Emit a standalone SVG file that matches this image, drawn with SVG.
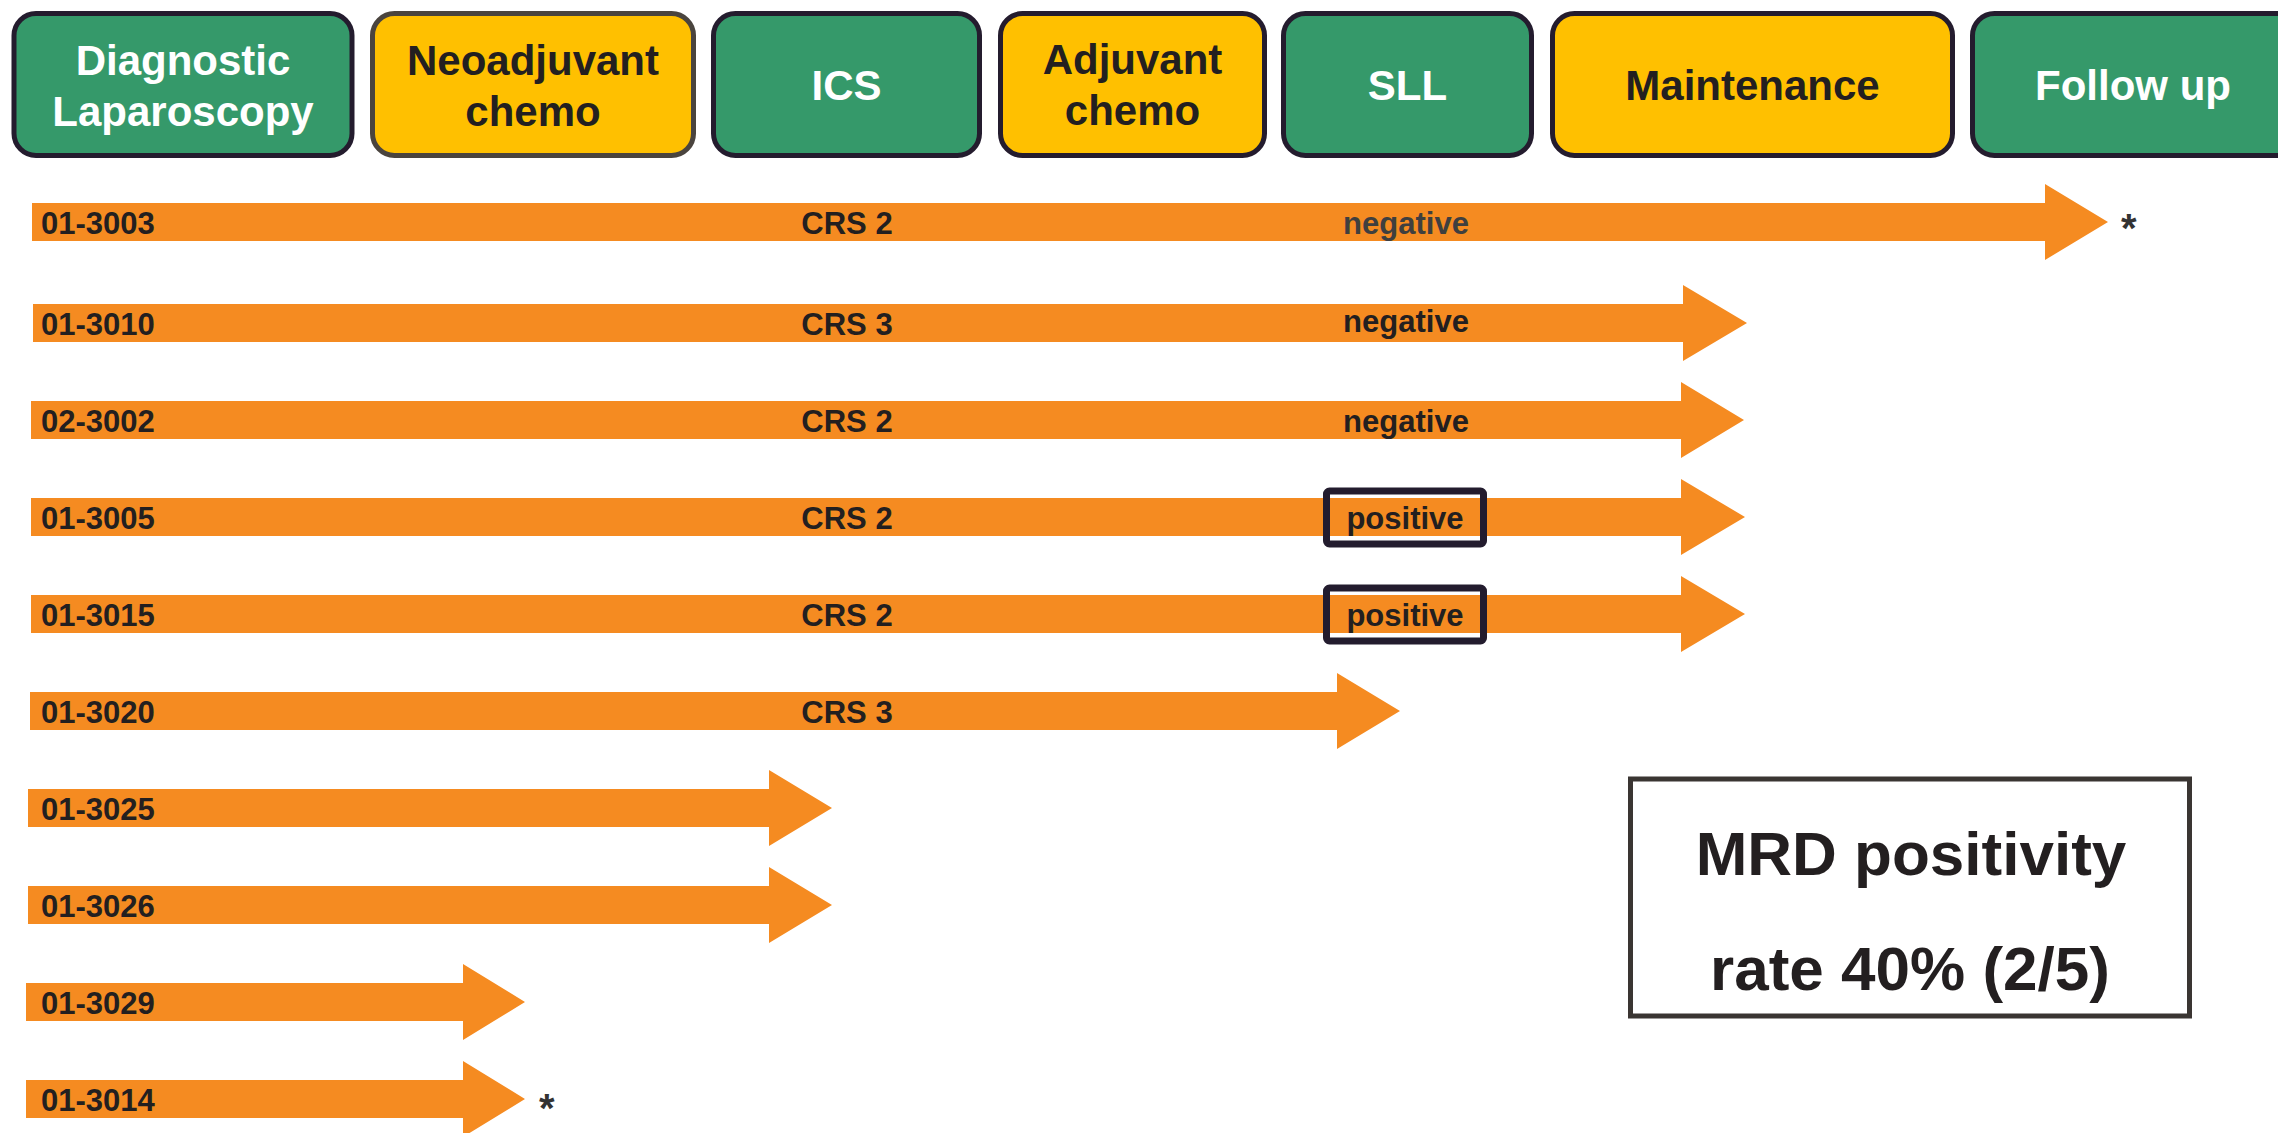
<svg xmlns="http://www.w3.org/2000/svg" width="2278" height="1133" viewBox="0 0 2278 1133">
<style>
.hdr{stroke:#241c2e;stroke-width:5}
.g{fill:#35996a}
.y{fill:#ffc000}
.ht{font-family:"Liberation Sans",Arial,sans-serif;font-weight:bold;font-size:42px;text-anchor:middle}
.w{fill:#ffffff}
.k{fill:#231f20}
.arr{fill:#f58b21}
.lb{font-family:"Liberation Sans",Arial,sans-serif;font-weight:bold;font-size:31px;fill:#231f20}
.mid{text-anchor:middle}
.pos{fill:none;stroke:#231c2e;stroke-width:7}
.ast{font-family:"Liberation Sans",Arial,sans-serif;font-weight:bold;font-size:40px;fill:#333333}
.mrd{font-family:"Liberation Sans",Arial,sans-serif;font-weight:bold;font-size:62px;fill:#231f20;text-anchor:middle}
</style>
<rect width="2278" height="1133" fill="#ffffff"/>

<g id="phase-diagnostic-laparoscopy">
<rect class="hdr g" x="14" y="13.5" width="338" height="142" rx="22"/>
<text class="ht w" x="183" y="75">Diagnostic</text>
<text class="ht w" x="183" y="126">Laparoscopy</text>
</g>
<g id="phase-neoadjuvant-chemo">
<rect class="hdr y" x="372.5" y="13.5" width="321" height="142" rx="22" style="stroke:#4a443e"/>
<text class="ht k" x="533" y="75">Neoadjuvant</text>
<text class="ht k" x="533" y="126">chemo</text>
</g>
<g id="phase-ics">
<rect class="hdr g" x="713.5" y="13.5" width="266" height="142" rx="22"/>
<text class="ht w" x="846.5" y="100">ICS</text>
</g>
<g id="phase-adjuvant-chemo">
<rect class="hdr y" x="1000.5" y="13.5" width="264" height="142" rx="22"/>
<text class="ht k" x="1132.5" y="74">Adjuvant</text>
<text class="ht k" x="1132.5" y="125">chemo</text>
</g>
<g id="phase-sll">
<rect class="hdr g" x="1283.5" y="13.5" width="248" height="142" rx="22"/>
<text class="ht w" x="1407.5" y="100">SLL</text>
</g>
<g id="phase-maintenance">
<rect class="hdr y" x="1552.5" y="13.5" width="400" height="142" rx="22"/>
<text class="ht k" x="1752.5" y="100">Maintenance</text>
</g>
<g id="phase-follow-up">
<rect class="hdr g" x="1972.5" y="13.5" width="340" height="142" rx="22"/>
<text class="ht w" x="2133" y="100">Follow up</text>
</g>

<g id="timelines">
<polygon class="arr" points="32,203 2045,203 2045,184 2108,222 2045,260 2045,241 32,241"/>
<polygon class="arr" points="33,304 1683,304 1683,285 1747,323 1683,361 1683,342 33,342"/>
<polygon class="arr" points="31,401 1681,401 1681,382 1744,420 1681,458 1681,439 31,439"/>
<polygon class="arr" points="31,498 1681,498 1681,479 1745,517 1681,555 1681,536 31,536"/>
<polygon class="arr" points="31,595 1681,595 1681,576 1745,614 1681,652 1681,633 31,633"/>
<polygon class="arr" points="30,692 1337,692 1337,673 1400,711 1337,749 1337,730 30,730"/>
<polygon class="arr" points="28,789 769,789 769,770 832,808 769,846 769,827 28,827"/>
<polygon class="arr" points="28,886 769,886 769,867 832,905 769,943 769,924 28,924"/>
<polygon class="arr" points="26,983 463,983 463,964 525,1002 463,1040 463,1021 26,1021"/>
<polygon class="arr" points="26,1080 463,1080 463,1061 525,1099 463,1137 463,1118 26,1118"/>
</g>

<g id="row-01-3003">
<text class="lb" x="41" y="234">01-3003</text>
<text class="lb mid" x="847" y="234">CRS 2</text>
<text class="lb mid" x="1406" y="234" style="fill:#3f3f3f">negative</text>
<text class="ast" x="2121" y="242">*</text>
</g>
<g id="row-01-3010">
<text class="lb" x="41" y="335">01-3010</text>
<text class="lb mid" x="847" y="335">CRS 3</text>
<text class="lb mid" x="1406" y="332">negative</text>
</g>
<g id="row-02-3002">
<text class="lb" x="41" y="432">02-3002</text>
<text class="lb mid" x="847" y="432">CRS 2</text>
<text class="lb mid" x="1406" y="432">negative</text>
</g>
<g id="row-01-3005">
<text class="lb" x="41" y="529">01-3005</text>
<text class="lb mid" x="847" y="529">CRS 2</text>
<rect class="pos" x="1326.5" y="491" width="157" height="53" rx="3"/>
<text class="lb mid" x="1405" y="529">positive</text>
</g>
<g id="row-01-3015">
<text class="lb" x="41" y="626">01-3015</text>
<text class="lb mid" x="847" y="626">CRS 2</text>
<rect class="pos" x="1326.5" y="588" width="157" height="53" rx="3"/>
<text class="lb mid" x="1405" y="626">positive</text>
</g>
<g id="row-01-3020">
<text class="lb" x="41" y="723">01-3020</text>
<text class="lb mid" x="847" y="723">CRS 3</text>
</g>
<g id="row-01-3025">
<text class="lb" x="41" y="820">01-3025</text>
</g>
<g id="row-01-3026">
<text class="lb" x="41" y="917">01-3026</text>
</g>
<g id="row-01-3029">
<text class="lb" x="41" y="1014">01-3029</text>
</g>
<g id="row-01-3014">
<text class="lb" x="41" y="1111">01-3014</text>
<text class="ast" x="539" y="1122">*</text>
</g>

<g id="mrd-summary">
<rect x="1630.5" y="779" width="559" height="237" fill="#ffffff" stroke="#3a3532" stroke-width="5"/>
<text class="mrd" x="1911" y="875">MRD positivity</text>
<text class="mrd" x="1910" y="990">rate 40% (2/5)</text>
</g>
</svg>
